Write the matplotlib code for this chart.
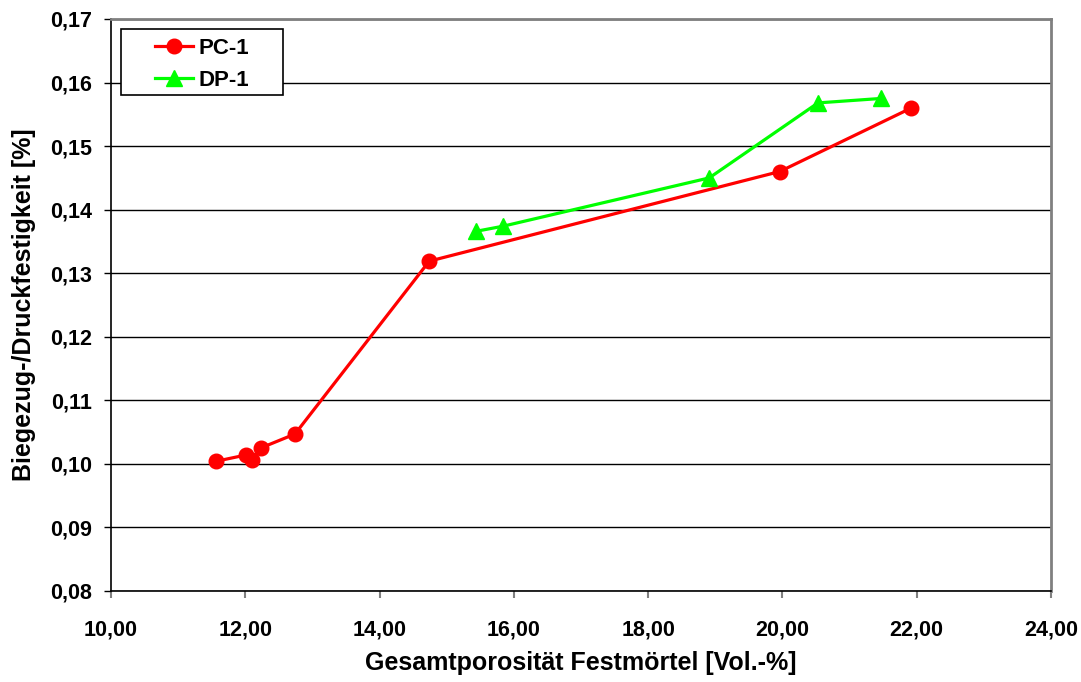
import matplotlib
matplotlib.use("Agg")
import matplotlib.pyplot as plt
from matplotlib.patches import Rectangle
from matplotlib.ticker import MultipleLocator, FuncFormatter

plt.rcParams['font.family'] = ['Liberation Sans', 'DejaVu Sans']
plt.rcParams['font.weight'] = 'bold'

# PC-1 series
pc_x = [11.56, 12.01, 12.10, 12.23, 12.74, 14.74, 19.96, 21.92]
pc_y = [0.1004, 0.1014, 0.1006, 0.1025, 0.1047, 0.1319, 0.1460, 0.1560]

# DP-1 series
dp_x = [15.44, 15.84, 18.91, 20.53, 21.47]
dp_y = [0.1366, 0.1374, 0.1450, 0.1568, 0.1575]

x_label = "Gesamtporosität Festmörtel [Vol.-%]"
y_label = "Biegezug-/Druckfestigkeit [%]"

W, H = 1081, 682
L, R, T, B = 111, 1051, 19, 591

fig = plt.figure(figsize=(W / 100, H / 100), dpi=100)
ax = fig.add_axes([L / W, 1 - B / H, (R - L) / W, (B - T) / H])


def px_to_axes(px, py):
    return (px - L) / (R - L), (B - py) / (B - T)


ax.set_xlim(10, 24)
ax.set_ylim(0.08, 0.17)
ax.xaxis.set_major_locator(MultipleLocator(2))
ax.yaxis.set_major_locator(MultipleLocator(0.01))
comma = FuncFormatter(lambda v, p: f"{v:.2f}".replace(".", ","))
ax.xaxis.set_major_formatter(comma)
ax.yaxis.set_major_formatter(comma)

ax.grid(axis='y', color='black', linewidth=1.0, zorder=0)
ax.set_axisbelow(True)

for s in ['top', 'right']:
    ax.spines[s].set_color('#808080')
    ax.spines[s].set_linewidth(2.0)
for s in ['left', 'bottom']:
    ax.spines[s].set_color('black')
    ax.spines[s].set_linewidth(1.2)

ax.tick_params(axis='both', direction='out', length=5, width=1, labelsize=15.5)
ax.tick_params(axis='y', pad=8.5, color='black')
ax.tick_params(axis='x', pad=15.5, color='#808080', width=1.5)
for lbl in ax.get_xticklabels() + ax.get_yticklabels():
    lbl.set_fontweight('bold')

ax.plot(pc_x, pc_y, color='#FF0000', linewidth=2.3, marker='o', markersize=10.5,
        label='PC-1', zorder=3, clip_on=False)
ax.plot(dp_x, dp_y, color='#00FF00', linewidth=2.3, marker='^', markersize=11,
        label='DP-1', zorder=3, clip_on=False)

ax.set_xlabel(x_label, fontsize=18, fontweight='bold')
ax.set_ylabel(y_label, fontsize=18, fontweight='bold')
ax.xaxis.set_label_coords(*px_to_axes((L + R) / 2, 663))
ax.yaxis.set_label_coords(*px_to_axes(24, (T + B) / 2))
ax.xaxis.label.set_va('center')
ax.yaxis.label.set_va('center')

# legend box drawn separately, entries placed inside it
x0, y0 = px_to_axes(121, 95)
x1, y1 = px_to_axes(283, 29)
ax.add_patch(Rectangle((x0, y0), x1 - x0, y1 - y0, transform=ax.transAxes,
                       facecolor='white', edgecolor='black', linewidth=1.2,
                       zorder=5, clip_on=False))
leg = ax.legend(loc='center left', bbox_to_anchor=px_to_axes(155, 64.5),
                fontsize=16, frameon=False, handlelength=1.7,
                borderpad=0, labelspacing=0.5, handletextpad=0.25,
                borderaxespad=0)
leg.set_zorder(6)
for t in leg.get_texts():
    t.set_fontweight('bold')

fig.savefig("out.png", dpi=100)
